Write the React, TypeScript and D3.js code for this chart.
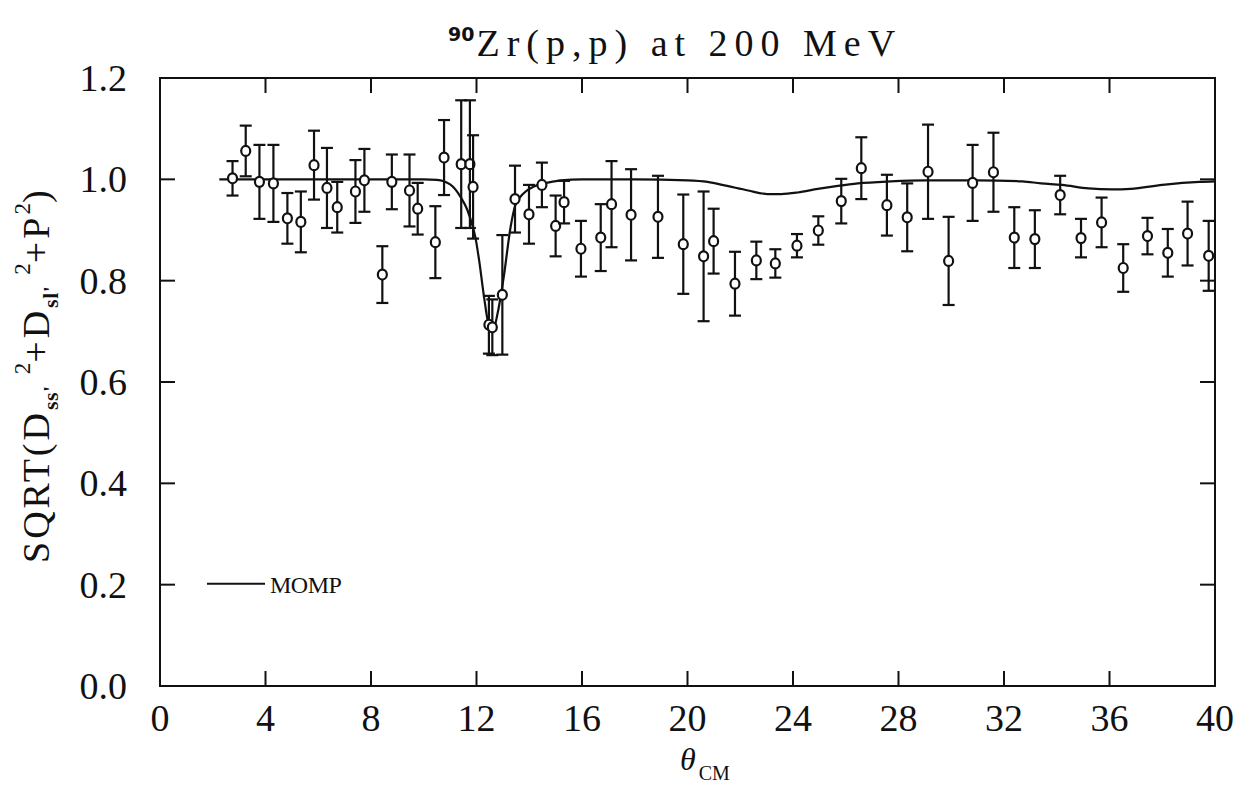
import React from 'react';
import * as d3 from 'd3';

// measured points: theta (deg, cm), sqrt(Dss'^2 + Dsl'^2 + P^2), error
const thetaCm = [
  2.75, 3.25, 3.77, 4.3, 4.83, 5.34, 5.84, 6.33, 6.72, 7.41, 7.75, 8.43, 8.79, 9.46, 9.77,
  10.44, 10.77, 11.42, 11.75, 11.87, 12.47, 12.6, 12.98, 13.46, 13.99, 14.48, 15.0, 15.32,
  15.96, 16.71, 17.12, 17.86, 18.88, 19.84, 20.61, 20.99, 21.8, 22.61, 23.33, 24.15, 24.96,
  25.83, 26.59, 27.56, 28.33, 29.12, 29.9, 30.81, 31.6, 32.39, 33.17, 34.13, 34.92, 35.7,
  36.52, 37.44, 38.21, 38.96, 39.76,
];
const sqrtD = [
  1.002, 1.056, 0.995, 0.992, 0.923, 0.916, 1.028, 0.983, 0.945, 0.976, 0.998, 0.812, 0.995,
  0.978, 0.942, 0.876, 1.043, 1.03, 1.03, 0.985, 0.713, 0.708, 0.772, 0.961, 0.931, 0.989,
  0.908, 0.955, 0.863, 0.885, 0.951, 0.93, 0.926, 0.872, 0.848, 0.878, 0.794, 0.84, 0.834,
  0.869, 0.899, 0.957, 1.022, 0.949, 0.925, 1.015, 0.839, 0.993, 1.014, 0.885, 0.882, 0.969,
  0.884, 0.915, 0.825, 0.888, 0.855, 0.893, 0.849,
];
const sqrtDErr = [
  0.034, 0.05, 0.073, 0.076, 0.05, 0.06, 0.068, 0.079, 0.05, 0.062, 0.062, 0.056, 0.054,
  0.071, 0.051, 0.071, 0.074, 0.126, 0.126, 0.102, 0.057, 0.055, 0.118, 0.066, 0.058, 0.044,
  0.06, 0.042, 0.055, 0.066, 0.085, 0.09, 0.081, 0.098, 0.128, 0.064, 0.063, 0.037, 0.028,
  0.023, 0.028, 0.044, 0.061, 0.06, 0.067, 0.093, 0.087, 0.075, 0.078, 0.06, 0.057, 0.038,
  0.038, 0.049, 0.047, 0.036, 0.047, 0.063, 0.069,
];

// MOMP calculation
const mompTheta = [
  2.25, 4, 6, 8, 9, 10, 10.5, 11.0, 11.4, 11.65, 11.84, 11.96, 12.1, 12.28, 12.47, 12.63,
  12.81, 13.04, 13.29, 13.48, 13.8, 14.18, 14.56, 15.2, 16, 18, 20, 20.76, 21.5, 22.3, 23.04,
  23.55, 24.18, 24.94, 25.7, 26.46, 27.7, 29, 31, 32.7, 33.4, 34.2, 35.2, 36.1, 36.8, 38,
  39.4, 40,
];
const mompValue = [
  1.0, 1.0, 1.0, 1.0, 1.0, 1.0, 0.999, 0.99, 0.965, 0.94, 0.91, 0.885, 0.84, 0.77, 0.712,
  0.703, 0.738, 0.81, 0.905, 0.95, 0.973, 0.986, 0.992, 0.998, 1.0, 1.0, 0.998, 0.995, 0.987,
  0.978, 0.971, 0.971, 0.974, 0.981, 0.987, 0.992, 0.996, 0.998, 0.998, 0.996, 0.992, 0.989,
  0.982, 0.98, 0.981, 0.989, 0.995, 0.996,
];

const xTickValues = [0, 4, 8, 12, 16, 20, 24, 28, 32, 36, 40];
const yTickValues = [0, 0.2, 0.4, 0.6, 0.8, 1.0, 1.2];

const font = '"Liberation Serif", "Times New Roman", serif';

export default function App() {
  const width = 1239;
  const height = 791;
  const margin = { top: 78, right: 24, bottom: 105, left: 160 };

  const x = d3.scaleLinear().domain([0, 40]).range([margin.left, width - margin.right]);
  const y = d3.scaleLinear().domain([0, 1.2]).range([height - margin.bottom, margin.top]);

  const line = d3
    .line<number>()
    .x((d, i) => x(mompTheta[i]))
    .y((d) => y(d))
    .curve(d3.curveMonotoneX);

  const tickLen = 15;
  const capW = 6;

  return (
    <svg width={width} height={height} style={{ position: 'absolute', left: 0, top: 0, background: '#fff' }}>
      {/* frame */}
      <rect
        x={x(0)}
        y={y(1.2)}
        width={x(40) - x(0)}
        height={y(0) - y(1.2)}
        fill="none"
        stroke="#111"
        strokeWidth={2}
      />

      {/* x ticks, inward on bottom and top */}
      {xTickValues.slice(1, -1).map((t) => (
        <g key={'xt' + t} stroke="#111" strokeWidth={2}>
          <line x1={x(t)} x2={x(t)} y1={y(0)} y2={y(0) - tickLen} />
          <line x1={x(t)} x2={x(t)} y1={y(1.2)} y2={y(1.2) + tickLen} />
        </g>
      ))}
      {xTickValues.map((t) => (
        <text
          key={'xl' + t}
          x={x(t)}
          y={731}
          textAnchor="middle"
          fontFamily={font}
          fontSize={38}
          fill="#111"
        >
          {t}
        </text>
      ))}

      {/* y ticks, inward on left and right */}
      {yTickValues.slice(1, -1).map((t) => (
        <g key={'yt' + t} stroke="#111" strokeWidth={2}>
          <line x1={x(0)} x2={x(0) + tickLen} y1={y(t)} y2={y(t)} />
          <line x1={x(40)} x2={x(40) - tickLen} y1={y(t)} y2={y(t)} />
        </g>
      ))}
      {yTickValues.map((t) => (
        <text
          key={'yl' + t}
          x={127}
          y={y(t) + 13}
          textAnchor="end"
          fontFamily={font}
          fontSize={38}
          fill="#111"
        >
          {t.toFixed(1)}
        </text>
      ))}

      {/* MOMP curve */}
      <path d={line(mompValue) || ''} fill="none" stroke="#111" strokeWidth={2.2} />

      {/* data with error bars */}
      {thetaCm.map((t, i) => {
        const cx = x(t);
        const lo = y(sqrtD[i] - sqrtDErr[i]);
        const hi = y(sqrtD[i] + sqrtDErr[i]);
        return (
          <g key={'pt' + i} stroke="#111" strokeWidth={2.2}>
            <line x1={cx} x2={cx} y1={lo} y2={hi} />
            <line x1={cx - capW} x2={cx + capW} y1={lo} y2={lo} />
            <line x1={cx - capW} x2={cx + capW} y1={hi} y2={hi} />
            <ellipse cx={cx} cy={y(sqrtD[i])} rx={4.5} ry={5} fill="#fff" />
          </g>
        );
      })}

      {/* legend */}
      <line x1={207} x2={265} y1={y(0.2) - 1} y2={y(0.2) - 1} stroke="#111" strokeWidth={2} />
      <text x={270} y={y(0.2) + 8} fontFamily={font} fontSize={24} letterSpacing={-0.5} fill="#111">
        MOMP
      </text>

      {/* title */}
      <text x={472} y={56} fontFamily={font} fontSize={38} letterSpacing={7} fill="#111">
        <tspan fontSize={19} fontFamily="'DejaVu Sans', sans-serif" fontWeight="bold" letterSpacing={0} dy={-15} dx={-24}>
          90
        </tspan>
        <tspan dy={15} dx={2}>Zr(p,p) at 200 MeV</tspan>
      </text>

      {/* x axis label */}
      <text x={680} y={770} fontFamily={font} fontStyle="italic" fontSize={32} fill="#111">
        θ
        <tspan fontStyle="normal" fontSize={20} dy={10} dx={3}>
          CM
        </tspan>
      </text>

      {/* y axis label */}
      <text
        transform={`translate(49, ${563}) rotate(-90)`}
        fontFamily={font}
        fontSize={38}
        letterSpacing={3}
        fill="#111"
      >
        SQRT(D
        <tspan fontSize={22} fontWeight="bold" letterSpacing={0.5} dy={9}>ss'</tspan>
        <tspan fontSize={23} letterSpacing={0} dy={-28} dx={11}>2</tspan>
        <tspan dy={19}>+D</tspan>
        <tspan fontSize={22} fontWeight="bold" letterSpacing={0.5} dy={9}>sl'</tspan>
        <tspan fontSize={23} letterSpacing={0} dy={-28} dx={11}>2</tspan>
        <tspan dy={19}>+P</tspan>
        <tspan fontSize={23} letterSpacing={0} dy={-19}>2</tspan>
        <tspan dy={19}>)</tspan>
      </text>
    </svg>
  );
}
